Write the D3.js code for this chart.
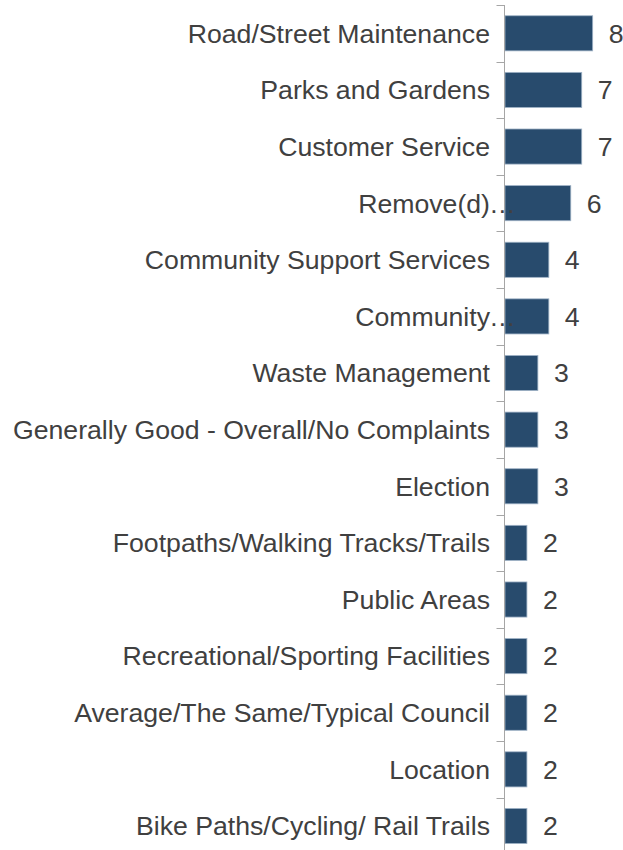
<!DOCTYPE html>
<html>
<head>
<meta charset="utf-8">
<script src="https://cdn.jsdelivr.net/npm/d3@7"></script>
<style>
  html, body { margin: 0; padding: 0; background: #ffffff; }
  svg { display: block; }
  text { font-family: "Liberation Sans", Arial, sans-serif; fill: #404040; }
</style>
</head>
<body>
<svg id="chart" width="623" height="850"></svg>
<script>
// Categories (top to bottom) and counts
const categories = [
  "Road/Street Maintenance",
  "Parks and Gardens",
  "Customer Service",
  "Remove(d)",
  "Community Support Services",
  "Community",
  "Waste Management",
  "Generally Good - Overall/No Complaints",
  "Election",
  "Footpaths/Walking Tracks/Trails",
  "Public Areas",
  "Recreational/Sporting Facilities",
  "Average/The Same/Typical Council",
  "Location",
  "Bike Paths/Cycling/ Rail Trails"
];
const values = [8, 7, 7, 6, 4, 4, 3, 3, 3, 2, 2, 2, 2, 2, 2];
// Labels shortened with an ellipsis
const truncated = ["Remove(d)", "Community"];

const data = categories.map((c, i) => ({ cat: c, val: values[i] }));

const svg = d3.select("#chart");
const axisX = 504.5;
const fontSize = 26.67;

const x = d3.scaleLinear().domain([0, 10]).range([505, 505 + 109.6]);
const y = d3.scaleBand()
  .domain(categories)
  .range([5, 5 + 15 * 56.62])
  .paddingInner(0.38)
  .paddingOuter(0.19);

const step = y.step();
const half = step * y.paddingInner() / 2;

// Bars
svg.append("g").selectAll("rect")
  .data(data)
  .join("rect")
  .attr("x", x(0))
  .attr("y", d => y(d.cat))
  .attr("width", d => x(d.val) - x(0))
  .attr("height", y.bandwidth())
  .attr("fill", "#284b6d")
  .attr("stroke", "#9fb2c6")
  .attr("stroke-width", 0.8);

// Category axis line and ticks between bands
const ax = svg.append("g");
ax.append("line")
  .attr("x1", axisX).attr("x2", axisX)
  .attr("y1", y(categories[0]) - half)
  .attr("y2", 860)
  .attr("stroke", "#a6a6a6")
  .attr("stroke-width", 1);
const bounds = categories.map(c => y(c) - half);
bounds.push(y(categories[categories.length - 1]) + y.bandwidth() + half);
ax.selectAll("line.tick")
  .data(bounds)
  .join("line")
  .attr("class", "tick")
  .attr("x1", axisX - 8).attr("x2", axisX)
  .attr("y1", d => Math.round(d) + 0.5)
  .attr("y2", d => Math.round(d) + 0.5)
  .attr("stroke", "#a6a6a6")
  .attr("stroke-width", 1);

// Category labels
const labels = svg.append("g");
labels.selectAll("text.cat")
  .data(data)
  .join("text")
  .attr("class", "cat")
  .attr("x", 490)
  .attr("y", d => y(d.cat) + y.bandwidth() / 2)
  .attr("dy", "0.35em")
  .attr("text-anchor", "end")
  .style("font-size", fontSize + "px")
  .text(d => d.cat);
labels.selectAll("text.ell")
  .data(data.filter(d => truncated.includes(d.cat)))
  .join("text")
  .attr("class", "ell")
  .attr("x", 489)
  .attr("y", d => y(d.cat) + y.bandwidth() / 2)
  .attr("dy", "0.35em")
  .style("font-size", fontSize + "px")
  .text("\u2026");

// Value labels
svg.append("g").selectAll("text")
  .data(data)
  .join("text")
  .attr("x", d => x(d.val) + 16)
  .attr("y", d => y(d.cat) + y.bandwidth() / 2)
  .attr("dy", "0.35em")
  .style("font-size", fontSize + "px")
  .text(d => d.val);
</script>
</body>
</html>
